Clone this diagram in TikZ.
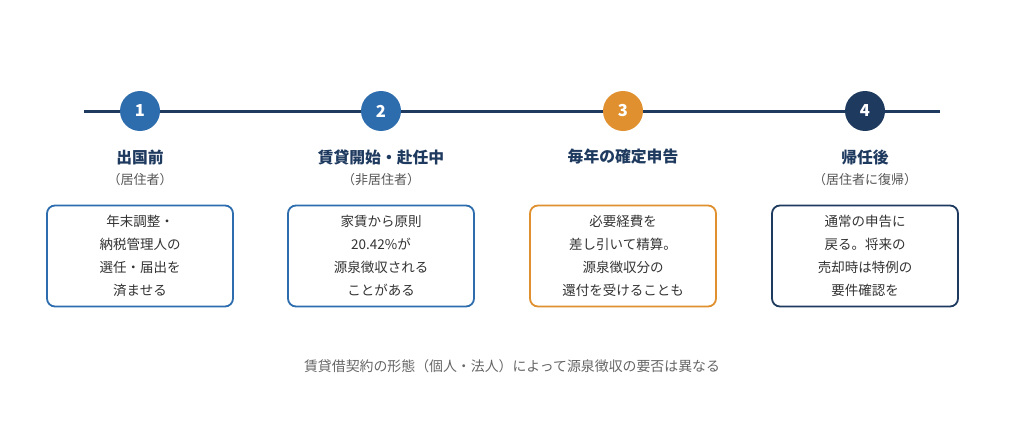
\documentclass[tikz,border=0pt]{standalone}
\usepackage{fontspec}
\setmainfont{Noto Sans CJK JP}
\usetikzlibrary{positioning}
\definecolor{navy}{HTML}{1F3A5F}
\definecolor{bluec}{HTML}{2E6DAD}
\definecolor{orangec}{HTML}{E0902E}
\definecolor{txt}{HTML}{333333}
\definecolor{sub}{HTML}{555555}
\definecolor{foot}{HTML}{666666}
\tikzset{
  x=1pt,y=-1pt,
  stepcirc/.style={circle,minimum size=40pt,inner sep=0pt,text=white,font=\fontsize{16.5}{18}\selectfont\bfseries},
  ttl/.style={text=navy,font=\fontsize{15.8}{18}\selectfont\bfseries,anchor=center},
  subt/.style={text=sub,font=\fontsize{13}{15}\selectfont,anchor=center},
  card/.style={draw,line width=1.8pt,rounded corners=8pt,minimum width=186pt,minimum height=101pt,inner sep=0pt,align=center,text=txt,font=\fontsize{13.5}{23}\selectfont},
}
\begin{document}
\begin{tikzpicture}
\useasboundingbox (0,0) rectangle (1024,428);
\coordinate (L) at (84,111);
\coordinate (R) at (940,111);
\draw[navy,line width=3pt] (L) -- (R);
\node[stepcirc,fill=bluec] (c1) at (140,111) {1};
\node[stepcirc,fill=bluec] (c2) at (381,111) {2};
\node[stepcirc,fill=orangec] (c3) at (623,111) {3};
\node[stepcirc,fill=navy] (c4) at (865,111) {4};

\node[ttl] (t1) at (140,157) {出国前};
\node[ttl] (t2) at (381,157) {賃貸開始・赴任中};
\node[ttl] (t3) at (623,157) {毎年の確定申告};
\node[ttl] (t4) at (865,157) {帰任後};

\node[subt] (s1) at (140,180) {（居住者）};
\node[subt] (s2) at (381,180) {（非居住者）};
\node[subt] (s4) at (865,180) {（居住者に復帰）};

\node[card,draw=bluec] (b1) at (140,256) {年末調整・\\納税管理人の\\選任・届出を\\済ませる};
\node[card,draw=bluec] (b2) at (381,256) {家賃から原則\\20.42\%が\\源泉徴収される\\ことがある};
\node[card,draw=orangec] (b3) at (623,256) {必要経費を\\差し引いて精算。\\源泉徴収分の\\還付を受けることも};
\node[card,draw=navy] (b4) at (865,256) {通常の申告に\\戻る。将来の\\売却時は特例の\\要件確認を};

\node[text=foot,font=\fontsize{13.9}{16}\selectfont] (f) at (512,366) {賃貸借契約の形態（個人・法人）によって源泉徴収の要否は異なる};
\end{tikzpicture}
\end{document}
